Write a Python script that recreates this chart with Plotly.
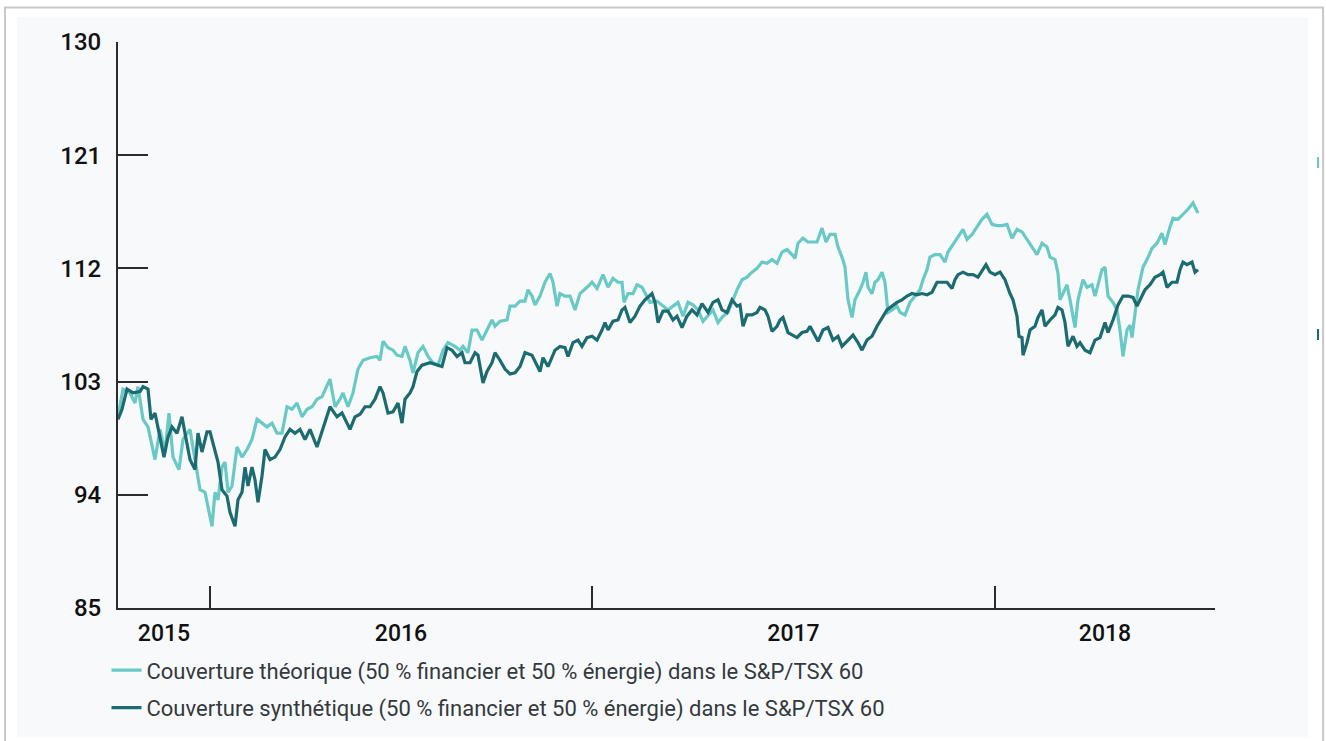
import plotly.graph_objects as go

# ---------------- data ----------------
# observation index (trading-day order) and index level, base ~100
theo_t = [0,5,12,17,20,25,30,37,42,47,51,55,61,65,72,77,82,87,90,94,97,100,104,107,110,114,119,124,129,134,
          139,144,149,154,159,164,169,174,179,184,189,194,199,204,209,212,217,222,225,230,235,240,245,252,259,262,
          265,270,275,279,284,287,292,295,300,305,310,315,320,325,330,337,342,345,350,354,359,364,369,374,377,382,
          389,392,397,402,407,410,414,417,422,427,432,435,439,442,447,452,457,462,469,474,479,485,490,495,500,504,
          506,510,515,519,524,529,532,539,545,550,555,560,565,570,575,580,585,590,595,600,605,610,615,619,624,629,
          634,639,644,649,654,659,664,669,674,677,680,685,690,695,699,704,708,712,717,720,724,727,730,734,737,742,
          745,748,750,754,757,760,764,767,770,774,779,782,787,792,797,802,805,809,812,817,822,827,830,835,840,845,
          849,854,859,864,869,874,879,884,889,894,899,904,909,914,919,924,929,932,937,940,942,945,949,952,955,957,
          960,965,969,974,977,980,984,987,990,995,999,1002,1005,1009,1012,1014,1017,1020,1025,1029,1034,1039,1044,
          1047,1052,1055,1060,1065,1070,1075,1080]
theo_v = [100.2,102.4,102.1,101.3,102.6,100.0,99.4,96.8,99.2,97.4,100.5,97.0,96.0,98.4,99.2,96.8,94.4,94.2,93.1,91.5,
          94.2,93.6,96.2,96.6,94.2,94.7,97.8,97.0,97.6,98.4,100.0,99.7,99.4,99.7,98.9,98.9,101.0,100.8,101.3,100.2,
          100.8,101.0,101.6,101.8,102.6,103.2,101.0,101.6,102.1,101.0,102.1,104.0,104.7,104.9,105.0,104.7,106.2,105.7,
          105.5,105.1,105.0,105.8,104.7,103.7,105.3,105.8,105.0,104.5,104.3,105.5,106.1,105.8,105.5,105.8,105.3,107.1,
          107.1,106.3,107.1,107.9,107.4,107.8,107.9,109.0,109.0,109.4,109.4,110.3,109.8,109.1,109.8,110.9,111.6,110.9,
          109.0,110.0,109.8,109.8,108.7,110.0,110.5,110.9,110.4,111.5,110.5,111.2,110.9,110.9,109.3,110.0,110.0,110.7,
          110.5,109.8,109.3,109.4,109.0,108.7,109.0,109.3,108.2,109.3,109.1,108.7,107.8,108.3,108.7,107.7,108.2,108.5,
          109.5,110.3,111.1,111.3,111.7,112.0,112.5,112.4,112.7,112.4,113.3,113.5,113.1,112.8,114.0,114.4,114.1,114.1,
          114.1,115.2,114.1,114.7,114.7,113.7,112.9,112.1,109.5,108.1,109.5,110.3,110.9,111.7,110.5,110.0,110.9,111.1,
          111.7,110.9,108.5,108.7,109.0,108.5,108.3,109.3,109.8,110.3,111.1,111.9,112.9,113.1,113.1,112.5,113.3,113.9,
          114.5,115.1,114.3,114.7,115.3,115.9,116.3,115.5,115.4,115.4,115.5,114.4,115.1,114.9,114.3,113.7,113.1,114.0,
          113.7,112.9,112.7,111.6,109.5,110.0,110.7,109.5,108.2,107.3,109.5,111.1,110.5,110.7,109.8,110.7,111.9,112.1,
          109.8,109.3,108.7,107.1,105.0,107.1,107.5,106.5,108.5,110.3,112.1,112.7,113.6,114.0,114.8,113.9,115.3,116.0,
          115.9,116.3,116.7,117.2,116.4]

synth_t = [0,4,9,15,22,25,30,33,37,42,46,50,54,59,64,67,72,77,80,84,89,92,97,100,104,109,112,117,120,124,127,130,134,
           137,140,144,147,152,157,162,167,172,177,182,187,192,199,205,212,219,224,229,232,237,242,247,252,257,262,265,
           270,275,280,284,287,292,295,299,304,312,319,324,329,334,339,344,347,352,357,360,365,369,374,377,382,387,392,
           397,402,407,414,419,422,425,430,437,442,447,450,455,460,464,469,474,479,484,487,490,495,500,504,507,512,517,
           522,527,534,537,540,545,550,555,559,564,569,574,579,584,590,595,600,604,609,614,619,622,625,629,634,639,642,
           647,650,654,659,662,665,670,675,679,684,689,692,697,700,705,710,715,720,724,729,735,740,744,749,754,759,764,
           769,774,779,784,789,794,799,804,809,814,819,824,829,834,837,840,845,850,855,860,865,868,872,877,882,887,892,
           895,899,901,904,905,909,912,917,920,924,927,932,937,940,944,947,950,955,959,962,967,972,977,982,987,990,995,
           1000,1005,1010,1015,1019,1022,1027,1032,1037,1042,1045,1049,1054,1059,1062,1065,1069,1074,1077,1080]
synth_v = [100.0,100.8,102.4,102.1,102.2,102.6,102.4,100.0,100.5,98.6,97.0,98.6,99.4,98.9,100.2,98.9,96.8,96.0,98.9,
           97.4,99.0,99.0,97.4,96.6,94.4,93.9,92.6,91.5,93.6,94.2,96.2,94.7,96.2,95.2,93.4,95.5,97.6,96.8,97.0,97.6,98.6,
           99.2,98.9,99.2,98.4,99.2,97.8,99.2,101.0,100.2,100.5,99.7,99.2,100.2,100.4,101.0,101.0,101.6,102.6,102.1,100.5,
           100.6,101.3,99.7,101.6,102.1,102.6,103.8,104.3,104.5,104.3,104.2,105.7,105.5,105.0,105.3,104.5,104.5,105.3,
           105.1,102.9,103.8,104.5,105.3,104.7,104.0,103.6,103.7,104.2,105.3,105.1,104.2,103.8,104.9,104.2,105.5,105.8,
           105.7,105.0,106.1,106.3,105.8,106.5,106.6,106.3,107.1,107.7,107.1,107.8,107.9,108.7,108.9,107.7,108.2,109.0,
           109.5,110.0,109.3,107.7,108.6,108.6,107.9,108.2,107.3,108.2,108.7,108.3,109.2,108.5,109.3,109.5,108.7,108.5,
           109.5,109.0,109.1,107.4,108.3,108.3,108.5,108.9,108.7,108.2,107.0,107.4,107.9,108.1,106.9,106.7,106.5,106.9,
           107.0,107.4,106.7,106.2,107.1,107.3,106.3,106.6,105.8,106.2,106.7,106.1,105.5,106.3,106.6,107.4,108.1,108.7,
           109.0,109.3,109.5,109.8,110.0,109.9,110.0,109.9,110.1,110.9,110.9,110.9,110.4,111.1,111.5,111.7,111.5,111.5,
           111.3,111.9,112.3,111.7,111.5,111.7,111.1,110.0,109.5,108.2,106.6,106.5,105.1,106.1,107.1,107.4,108.1,108.7,
           107.4,107.9,108.3,108.9,108.7,107.7,105.8,106.6,105.8,106.1,105.5,105.3,106.3,106.5,107.7,106.9,107.9,109.1,
           109.8,109.8,109.7,109.0,109.5,110.3,110.7,111.3,111.5,111.7,110.5,110.9,110.9,111.9,112.5,112.3,112.5,111.7,
           111.9]

year_labels = ["2015", "2016", "2017", "2018"]
year_breaks = [92, 474, 877]          # separators between years (observation index)
axis_end = 1097
y_ticks = [85, 94, 103, 112, 121, 130]

series_names = [
    "Couverture théorique (50 % financier et 50 % énergie) dans le S&P/TSX 60",
    "Couverture synthétique (50 % financier et 50 % énergie) dans le S&P/TSX 60",
]

LIGHT = "#68c9c5"
DARK = "#1c6b70"
FONT = "Roboto"

# label positions = middle of each year segment
edges = [0] + year_breaks + [axis_end]
year_mid = [(edges[i] + edges[i + 1]) / 2 for i in range(len(year_labels))]

fig = go.Figure()
fig.add_trace(go.Scatter(x=theo_t, y=theo_v, mode="lines", name=series_names[0],
                         legendgroup="a", line=dict(color=LIGHT, width=3.2)))
fig.add_trace(go.Scatter(x=synth_t, y=synth_v, mode="lines", name=series_names[1],
                         legendgroup="b", line=dict(color=DARK, width=3.2)))
# invisible trace to carry the year label axis
fig.add_trace(go.Scatter(x=[0, axis_end], y=[None, None], xaxis="x2", showlegend=False,
                         hoverinfo="skip"))

axis_col = "#2b2b2b"
fig.update_layout(
    width=1326, height=741,
    margin=dict(l=118, r=111, t=42, b=133),
    paper_bgcolor="white",
    plot_bgcolor="#f8f9fb",
    font=dict(family=FONT, color="#222222"),
    showlegend=True,
    legend=dict(x=-0.0105, xanchor="left", y=-0.073, yanchor="top",
                orientation="v", bgcolor="rgba(0,0,0,0)",
                font=dict(family=FONT, size=22, color="#33393d"),
                tracegroupgap=6, itemwidth=30),
    xaxis=dict(range=[0, axis_end], showgrid=False, zeroline=False,
               showline=True, linecolor=axis_col, linewidth=2,
               tickmode="array", tickvals=year_breaks, ticks="inside", ticklen=22,
               tickwidth=1.5, tickcolor=axis_col, showticklabels=False),
    xaxis2=dict(range=[0, axis_end], overlaying="x", side="bottom", anchor="y",
                showgrid=False, zeroline=False, showline=False,
                tickmode="array", tickvals=year_mid, ticktext=year_labels, ticks="",
                tickfont=dict(family=FONT, size=23, color="#111111", weight=500),
                ticklabelstandoff=9),
    yaxis=dict(range=[85, 130], showgrid=False, zeroline=False,
               showline=True, linecolor=axis_col, linewidth=2,
               tickmode="array", tickvals=y_ticks, ticks="inside", ticklen=30,
               tickwidth=1.5, tickcolor=axis_col,
               tickfont=dict(family=FONT, size=24, color="#111111", weight=500),
               ticklabelstandoff=10),
    shapes=[
        # outer frame
        dict(type="rect", xref="paper", yref="paper", x0=-0.1030, x1=1.0985, y0=-0.35, y1=1.0610,
             line=dict(color="#c9c9c9", width=2), fillcolor="white", layer="below"),
        # light panel
        dict(type="rect", xref="paper", yref="paper", x0=-0.0921, x1=1.0848, y0=-0.2279, y1=1.0442,
             line=dict(width=0), fillcolor="#f8f9fb", layer="below"),
        # cropped end markers at right edge
        dict(type="line", xref="paper", yref="paper", x0=1.0939, x1=1.0939, y0=0.7774, y1=0.7968,
             line=dict(color=LIGHT, width=2)),
        dict(type="line", xref="paper", yref="paper", x0=1.0939, x1=1.0939, y0=0.4735, y1=0.4929,
             line=dict(color=DARK, width=2)),
    ],
)

fig.write_html("out.html", config={"displayModeBar": False},
               post_script="document.body.style.margin='0';")
